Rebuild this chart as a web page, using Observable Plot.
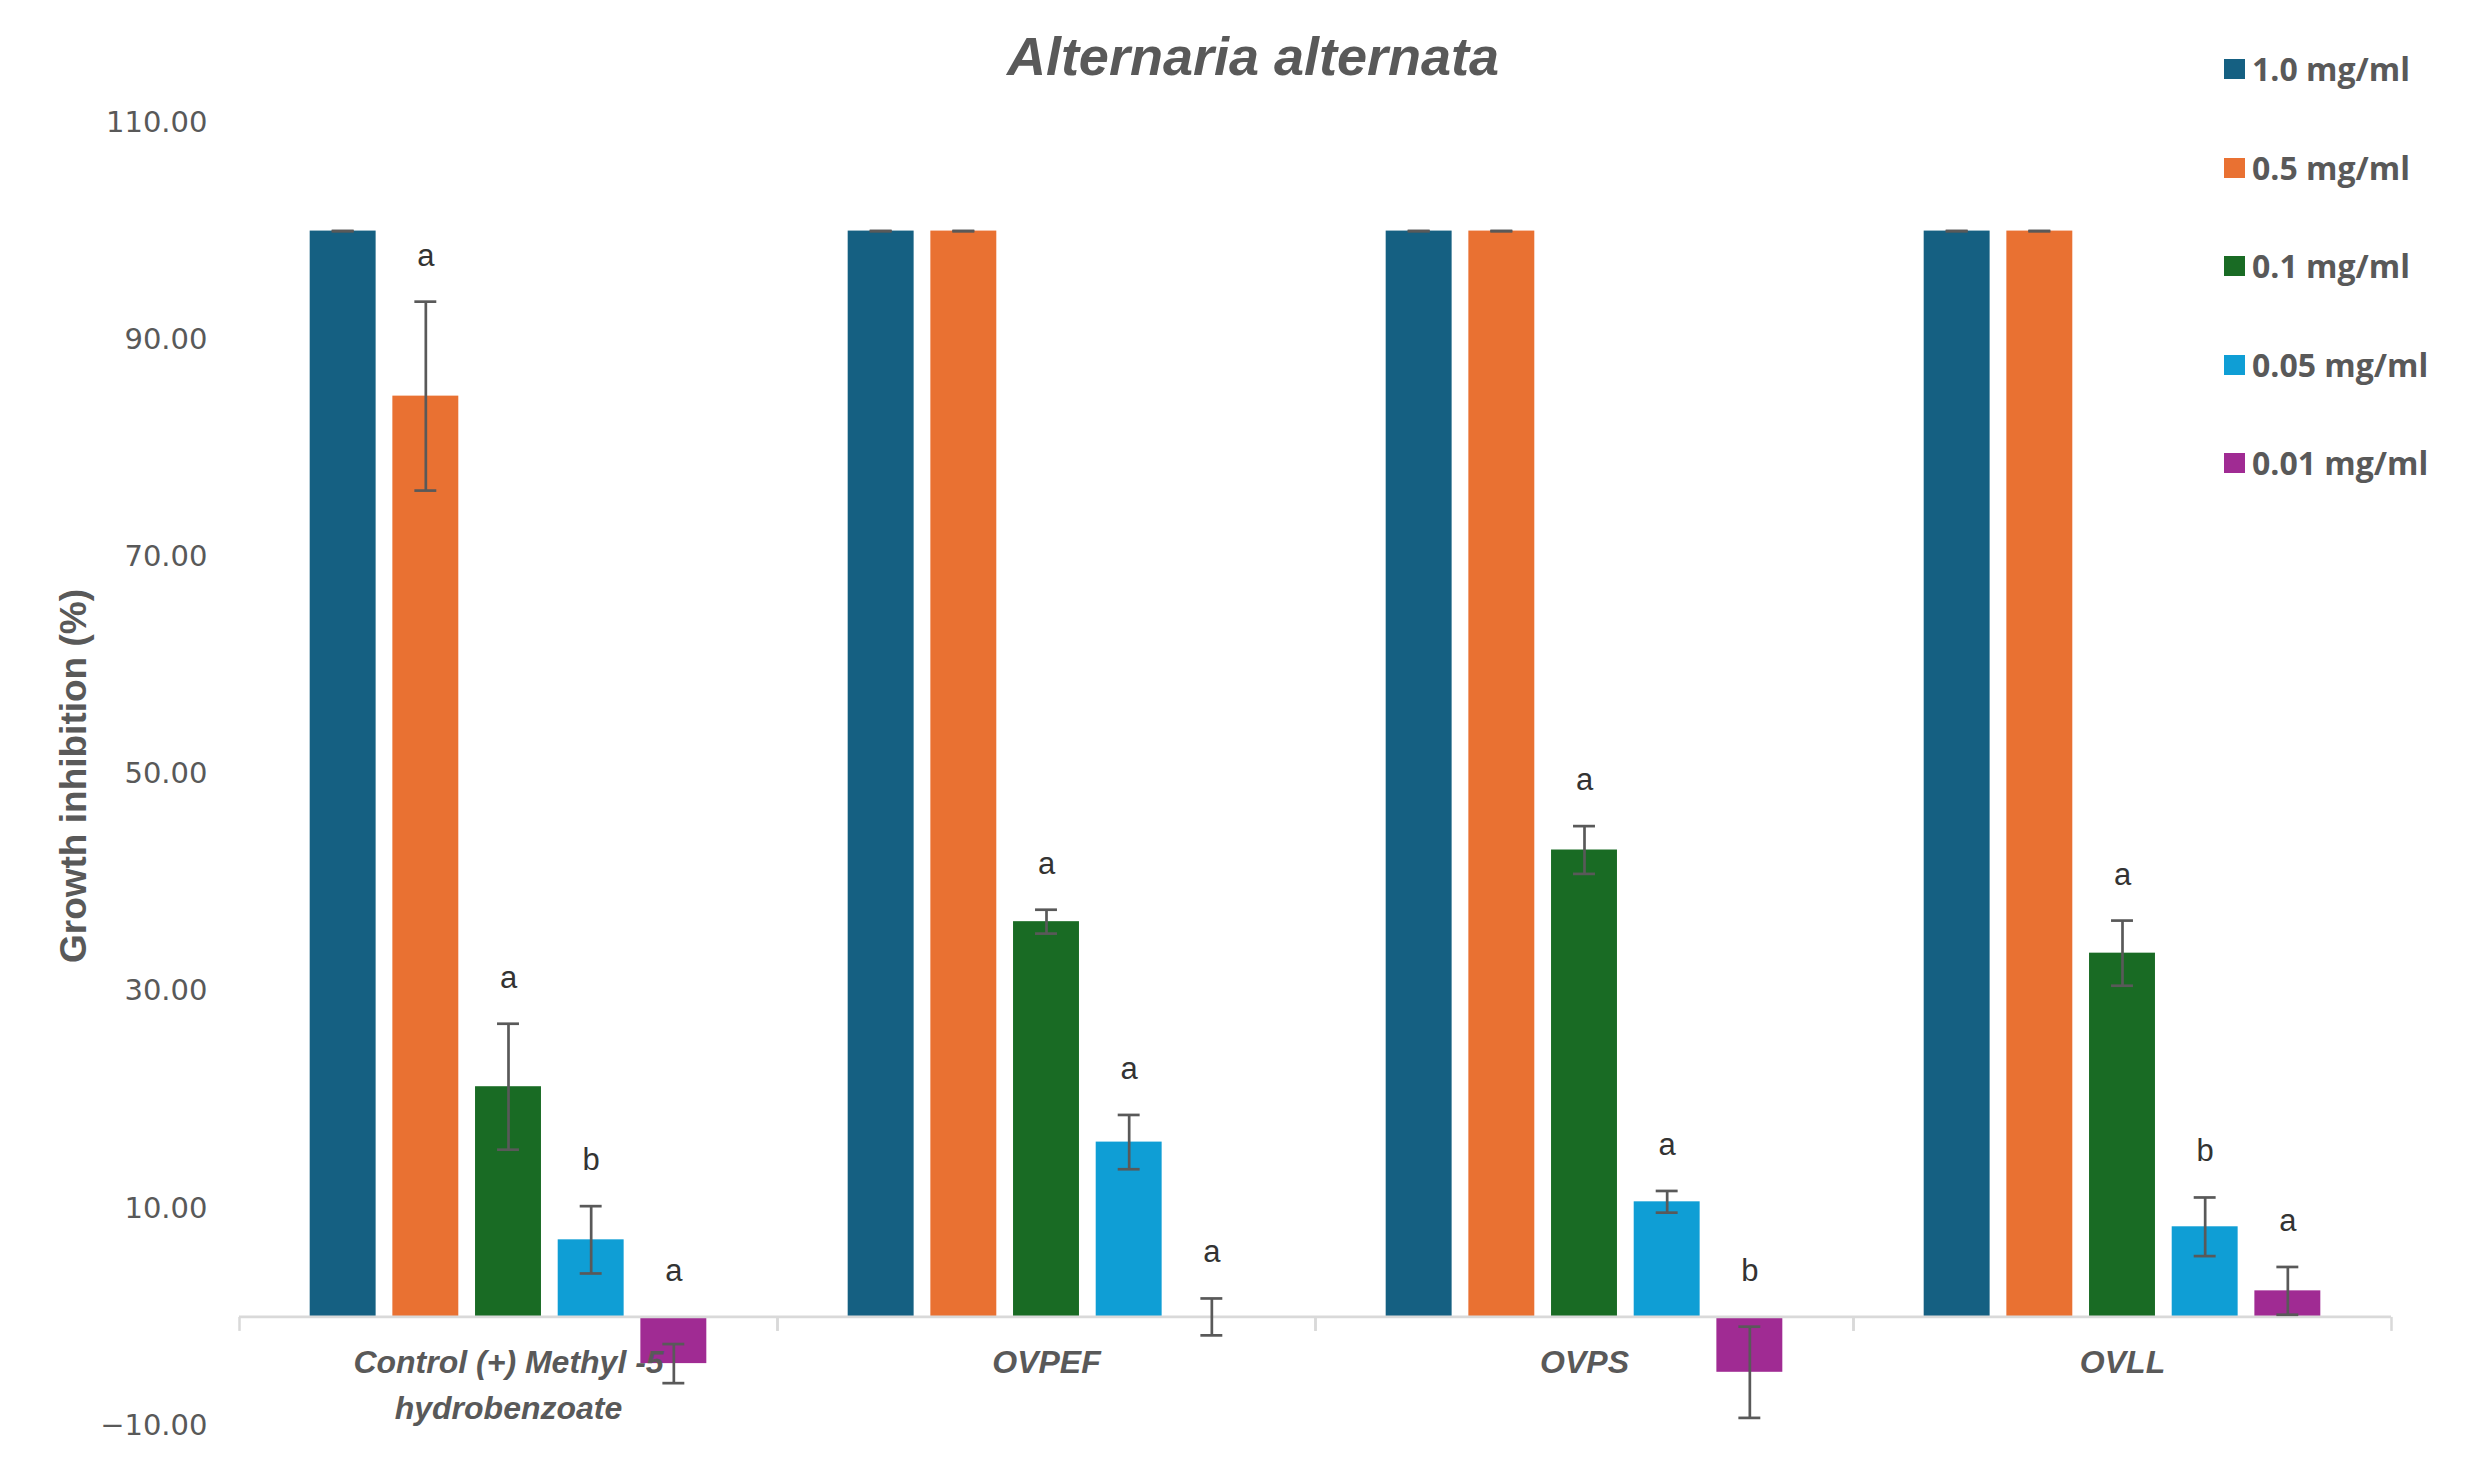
<!DOCTYPE html>
<html>
<head>
<meta charset="utf-8">
<script src="https://cdn.jsdelivr.net/npm/d3@7"></script>
<script src="https://cdn.jsdelivr.net/npm/@observablehq/plot@0.6"></script>
<style>
  html, body { margin: 0; padding: 0; background: #fff; }
  #wrap { position: relative; width: 2482px; height: 1473px; overflow: hidden; background: #fff; }
  #wrap svg { position: absolute; left: 0; top: 0; }
  .title { position: absolute; left: 953px; top: 29px; width: 600px; text-align: center;
           font: italic bold 54px/1 "Liberation Sans", Arial, sans-serif; color: #595959; white-space: nowrap; }
  .ylabel { position: absolute; left: 73px; top: 776px; transform: translate(-50%, -50%) rotate(-90deg);
            font: bold 37px/1 "Liberation Sans", Arial, sans-serif; color: #595959; white-space: nowrap; }
  .legend { position: absolute; left: 2224px; top: 20px; }
  .legend .row { height: 98.5px; display: flex; align-items: center; }
  .legend .sw { width: 21px; height: 20px; margin-right: 7px; }
  .legend .lab { font: bold 32px/1 "Open Sans", sans-serif; color: #595959; white-space: nowrap; }
</style>
</head>
<body>
<div id="wrap"></div>
<script>
// ---------- data ----------
const title = "Alternaria alternata";
const yLabel = "Growth inhibition (%)";
const groups = ["Control (+) Methyl -5 hydrobenzoate", "OVPEF", "OVPS", "OVLL"];
const groupLabels = ["Control (+) Methyl -5\nhydrobenzoate", "OVPEF", "OVPS", "OVLL"];
const concentrations = ["1.0 mg/ml", "0.5 mg/ml", "0.1 mg/ml", "0.05 mg/ml", "0.01 mg/ml"];
const colors = ["#156082", "#E97132", "#196B24", "#0F9ED5", "#A02B93"];
const yTicks = [-10, 10, 30, 50, 70, 90, 110];

// mean values per concentration (one entry per group)
const v10  = [100, 100, 100, 100];
const v05  = [84.8, 100, 100, 100];
const v01  = [21.2, 36.4, 43.0, 33.5];
const v005 = [7.1, 16.1, 10.6, 8.3];
const v001 = [-4.3, 0, -5.1, 2.4];
// error (± SD)
const e10  = [0, 0, 0, 0];
const e05  = [8.7, 0, 0, 0];
const e01  = [5.8, 1.1, 2.2, 3.0];
const e005 = [3.1, 2.5, 1.0, 2.7];
const e001 = [1.8, 1.7, 4.2, 2.2];
// significance letters
const l10  = ["", "", "", ""];
const l05  = ["a", "", "", ""];
const l01  = ["a", "a", "a", "a"];
const l005 = ["b", "a", "a", "b"];
const l001 = ["a", "a", "b", "a"];

const values = [v10, v05, v01, v005, v001];
const errors = [e10, e05, e01, e005, e001];
const letters = [l10, l05, l01, l005, l001];

const rows = [];
groups.forEach((g, gi) => concentrations.forEach((c, ci) => {
  rows.push({group: g, conc: c, value: values[ci][gi], err: errors[ci][gi], letter: letters[ci][gi]});
}));

// ---------- chart ----------
const tickSymbol = {
  draw(context, size) {
    const len = Math.sqrt(size / Math.PI);
    context.moveTo(0, 0);
    context.lineTo(0, len);
  }
};
const fmt = d => d3.format(".2f")(d).replace("-", "\u2212");
const ink = "#595959";

const chart = Plot.plot({
  width: 2482,
  height: 1473,
  marginTop: 122,
  marginBottom: 48,
  marginLeft: 238,
  marginRight: 90,
  style: {fontFamily: "DejaVu Sans", fontSize: "29px", color: ink, background: "transparent"},
  fx: {domain: groups, padding: 0, axis: null},
  x: {domain: concentrations, paddingInner: 0.2024, paddingOuter: 0.855, round: false, axis: null},
  y: {domain: [-10, 110], ticks: yTicks, tickFormat: fmt, tickSize: 0, tickPadding: 32, label: null},
  color: {domain: concentrations, range: colors},
  marks: [
    Plot.barY(rows, {fx: "group", x: "conc", y: "value", fill: "conc"}),
    Plot.ruleY([0], {stroke: "#d9d9d9", strokeWidth: 2.7}),
    Plot.dot(groups, {fx: d => d, y: 0, frameAnchor: "left", symbol: tickSymbol, r: 14,
                      fill: "none", stroke: "#d9d9d9", strokeWidth: 2.5}),
    Plot.dot(groups, {fx: d => d, y: 0, frameAnchor: "right", symbol: tickSymbol, r: 14,
                      fill: "none", stroke: "#d9d9d9", strokeWidth: 2.5}),
    Plot.text(groups, {fx: d => d, y: 0, frameAnchor: "middle", text: (d, i) => groupLabels[i],
                       lineAnchor: "top", dy: 24, lineHeight: 1.42,
                       fontFamily: "Liberation Sans", fontSize: 32, fontWeight: "bold", fontStyle: "italic", fill: ink}),
    Plot.ruleX(rows, {fx: "group", x: "conc", y1: d => d.value - d.err, y2: d => d.value + d.err,
                      stroke: ink, strokeWidth: 2.7}),
    Plot.tickY(rows, {fx: "group", x: "conc", y: d => d.value + d.err, insetLeft: 22, insetRight: 22,
                      stroke: ink, strokeWidth: 2.7}),
    Plot.tickY(rows, {fx: "group", x: "conc", y: d => d.value - d.err, insetLeft: 22, insetRight: 22,
                      stroke: ink, strokeWidth: 2.7}),
    Plot.text(rows.filter(d => d.letter), {fx: "group", x: "conc", y: d => Math.max(d.value + d.err, 0),
                      text: "letter", dy: -46, fontFamily: "Liberation Sans", fontSize: 31, fill: "#333"})
  ]
});

const wrap = document.getElementById("wrap");
wrap.appendChild(chart);

const t = document.createElement("div");
t.className = "title"; t.textContent = title; wrap.appendChild(t);
const yl = document.createElement("div");
yl.className = "ylabel"; yl.textContent = yLabel; wrap.appendChild(yl);

const lg = document.createElement("div");
lg.className = "legend";
concentrations.forEach((c, i) => {
  const row = document.createElement("div"); row.className = "row";
  const sw = document.createElement("div"); sw.className = "sw"; sw.style.background = colors[i];
  const lab = document.createElement("div"); lab.className = "lab"; lab.textContent = c;
  row.appendChild(sw); row.appendChild(lab); lg.appendChild(row);
});
wrap.appendChild(lg);
</script>
</body>
</html>
